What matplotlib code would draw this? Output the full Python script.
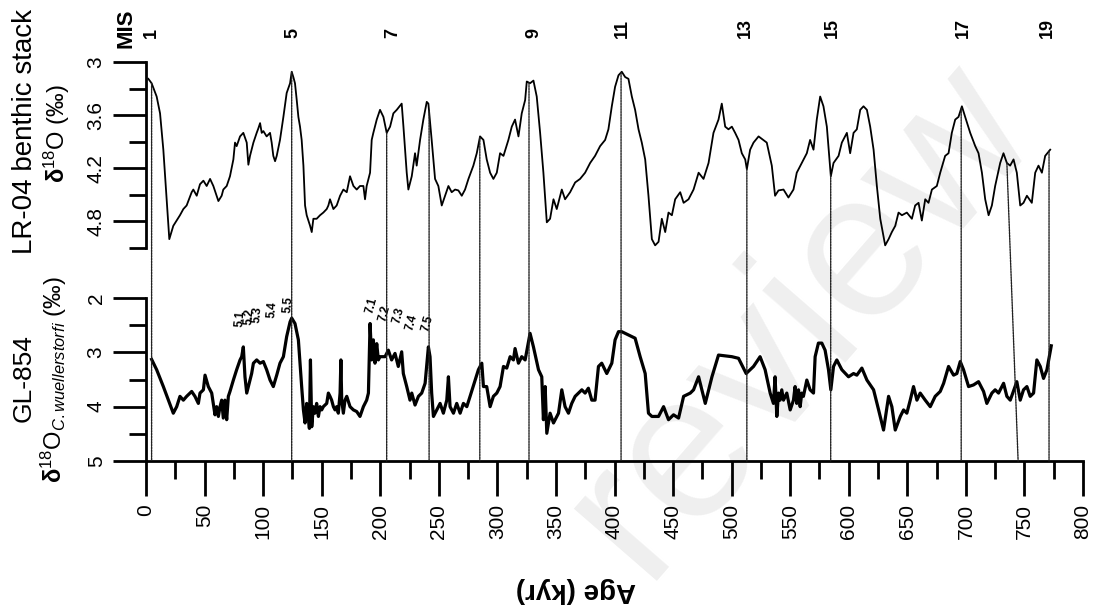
import numpy as np
import matplotlib
matplotlib.use("Agg")
import matplotlib.pyplot as plt
from matplotlib.patches import ConnectionPatch
from matplotlib.ticker import FixedLocator, MultipleLocator

plt.rcParams['font.family'] = ['Liberation Sans', 'DejaVu Sans']
plt.rcParams['mathtext.fontset'] = 'custom'
plt.rcParams['mathtext.rm'] = 'Liberation Sans'
plt.rcParams['mathtext.it'] = 'Liberation Sans:italic'
plt.rcParams['mathtext.bf'] = 'Liberation Sans:bold'
plt.rcParams.update({
    'xtick.direction': 'out', 'ytick.direction': 'out',
    'xtick.major.size': 25, 'xtick.minor.size': 13,
    'xtick.major.width': 2.0, 'xtick.minor.width': 2.0,
    'xtick.major.pad': 6, 'xtick.labelsize': 15,
    'ytick.major.size': 24, 'ytick.minor.size': 12,
    'ytick.major.width': 2.0, 'ytick.minor.width': 2.0,
})

# LR-04 benthic stack (kyr, per mil)
lr04_age = [
    2.0, 4.8, 9.1, 12.0, 14.8, 17.6, 19.9, 23.3, 29.0, 31.9,
    34.7, 39.0, 40.4, 43.3, 46.1, 49.0, 51.8, 54.7, 57.5, 60.3,
    61.8, 64.6, 66.0, 68.9, 71.7, 74.6, 76.0, 77.4, 80.3, 83.1,
    86.0, 87.4, 88.8, 91.7, 94.5, 95.9, 97.4, 98.8, 100.2, 103.0,
    105.9, 107.3, 108.7, 110.2, 111.6, 114.4, 117.3, 120.1, 123.0, 124.4,
    125.8, 127.2, 128.7, 130.1, 131.5, 132.9, 134.4, 135.8, 137.2, 140.1,
    141.5, 142.9, 145.7, 148.6, 151.4, 154.3, 155.7, 157.1, 160.0, 162.8,
    165.7, 168.5, 171.4, 174.2, 177.1, 179.9, 182.7, 185.6, 187.0, 188.4,
    191.3, 192.7, 194.1, 197.0, 199.8, 202.7, 205.5, 208.4, 211.2, 214.1,
    218.3, 219.8, 222.6, 224.0, 226.9, 229.7, 231.1, 234.0, 236.8, 239.7,
    241.1, 243.9, 246.8, 249.6, 252.5, 255.3, 258.2, 261.0, 263.9, 266.7,
    269.6, 272.4, 275.3, 279.5, 282.4, 285.2, 288.1, 290.9, 293.8, 296.6,
    299.5, 302.3, 305.2, 309.4, 312.3, 315.1, 318.0, 320.8, 323.7, 325.1,
    327.9, 330.8, 333.6, 336.5, 339.3, 342.2, 345.0, 347.9, 350.7, 355.0,
    357.8, 362.1, 366.4, 370.6, 374.9, 379.2, 383.4, 387.7, 392.0, 394.8,
    397.7, 400.5, 403.4, 406.2, 409.1, 411.9, 414.8, 417.6, 420.5, 423.3,
    426.2, 429.0, 431.9, 434.7, 437.6, 440.4, 443.3, 446.1, 449.0, 451.8,
    456.1, 459.0, 463.2, 467.5, 471.8, 476.0, 480.3, 484.5, 488.8, 491.6,
    494.5, 497.3, 500.2, 503.0, 505.9, 508.7, 511.6, 513.0, 515.8, 518.7,
    523.0, 530.0, 534.3, 537.1, 540.0, 544.3, 548.5, 552.8, 555.6, 559.9,
    564.2, 567.0, 569.9, 572.7, 575.6, 578.4, 581.3, 584.7, 587.0, 591.3,
    594.1, 598.4, 601.2, 604.1, 606.9, 609.8, 612.6, 615.5, 618.3, 621.2,
    624.0, 626.9, 631.1, 634.0, 636.8, 639.7, 642.5, 645.4, 649.6, 653.9,
    656.7, 659.6, 662.4, 665.3, 668.1, 671.0, 675.2, 678.1, 682.3, 685.2,
    688.0, 690.9, 693.7, 696.6, 699.4, 703.7, 708.0, 710.8, 713.7, 716.5,
    719.4, 722.2, 725.0, 729.3, 732.1, 735.0, 737.8, 740.7, 743.5, 746.4,
    749.2, 752.1, 756.3, 759.2, 762.0, 764.9, 767.7, 772.0,
]
lr04_d18o = [
    3.19, 3.24, 3.39, 3.58, 3.99, 4.55, 5.00, 4.85, 4.73, 4.66,
    4.62, 4.47, 4.44, 4.51, 4.38, 4.34, 4.40, 4.32, 4.40, 4.51,
    4.57, 4.51, 4.44, 4.40, 4.29, 4.10, 3.91, 3.95, 3.84, 3.80,
    3.91, 4.16, 4.06, 3.91, 3.80, 3.75, 3.69, 3.80, 3.78, 3.84,
    3.80, 3.91, 4.06, 4.12, 4.06, 3.88, 3.62, 3.35, 3.24, 3.11,
    3.17, 3.24, 3.43, 3.62, 3.73, 3.88, 4.17, 4.62, 4.73, 4.85,
    4.92, 4.77, 4.77, 4.73, 4.70, 4.66, 4.62, 4.55, 4.66, 4.62,
    4.51, 4.44, 4.47, 4.29, 4.40, 4.44, 4.40, 4.40, 4.55, 4.40,
    4.25, 3.88, 3.80, 3.65, 3.54, 3.62, 3.80, 3.73, 3.58, 3.54,
    3.47, 3.73, 4.25, 4.44, 4.29, 4.03, 4.17, 3.88, 3.65, 3.45,
    3.47, 3.88, 4.32, 4.40, 4.62, 4.51, 4.40, 4.47, 4.44, 4.45,
    4.51, 4.44, 4.32, 4.17, 4.03, 3.84, 3.88, 4.10, 4.25, 4.32,
    4.25, 4.03, 4.06, 3.88, 3.73, 3.65, 3.84, 3.58, 3.43, 3.22,
    3.24, 3.21, 3.39, 3.80, 4.25, 4.81, 4.77, 4.55, 4.66, 4.44,
    4.55, 4.47, 4.36, 4.32, 4.25, 4.14, 4.06, 3.95, 3.88, 3.76,
    3.50, 3.28, 3.15, 3.11, 3.17, 3.19, 3.39, 3.54, 3.76, 3.91,
    4.10, 4.51, 5.00, 5.07, 5.03, 4.77, 4.92, 4.70, 4.73, 4.55,
    4.47, 4.59, 4.55, 4.44, 4.25, 4.32, 4.14, 3.80, 3.65, 3.47,
    3.73, 3.76, 3.73, 3.80, 3.88, 4.03, 4.10, 4.21, 3.99, 3.91,
    3.84, 3.91, 4.17, 4.51, 4.45, 4.44, 4.53, 4.44, 4.25, 4.14,
    4.03, 3.88, 3.99, 3.65, 3.39, 3.50, 3.73, 4.29, 4.14, 4.06,
    3.91, 3.80, 4.03, 3.80, 3.76, 3.54, 3.50, 3.54, 3.73, 3.99,
    4.40, 4.77, 5.07, 5.00, 4.92, 4.85, 4.70, 4.73, 4.70, 4.77,
    4.62, 4.59, 4.79, 4.55, 4.59, 4.44, 4.40, 4.25, 4.06, 4.03,
    3.80, 3.65, 3.62, 3.50, 3.62, 3.80, 3.95, 4.03, 4.25, 4.55,
    4.73, 4.62, 4.40, 4.14, 4.03, 4.14, 4.17, 4.10, 4.25, 4.62,
    4.59, 4.51, 4.59, 4.25, 4.17, 4.25, 4.06, 3.99,
]

# GL-854 C. wuellerstorfi record (kyr, per mil)
gl854_age = [
    4.8, 9.1, 14.8, 19.1, 23.3, 26.2, 29.0, 31.9, 34.7, 39.0,
    41.8, 44.7, 46.1, 49.0, 50.4, 53.2, 56.1, 58.9, 60.3, 61.8,
    63.2, 64.6, 66.0, 67.4, 68.9, 70.3, 71.7, 74.6, 77.4, 80.3,
    81.7, 83.1, 84.5, 86.0, 87.4, 90.2, 91.7, 94.5, 97.4, 100.2,
    103.0, 105.9, 108.7, 111.6, 114.4, 117.3, 120.1, 123.0, 124.4, 127.2,
    130.1, 131.5, 132.9, 134.4, 135.8, 137.2, 138.6, 139.5, 140.4, 141.5,
    142.9, 144.3, 145.7, 147.2, 148.6, 150.0, 151.4, 154.3, 155.7, 157.1,
    158.5, 160.0, 161.4, 162.8, 164.2, 165.7, 166.4, 167.1, 168.5, 169.9,
    171.4, 174.2, 177.1, 179.9, 182.7, 185.6, 188.4, 189.9, 191.3, 192.7,
    194.1, 195.5, 197.0, 198.4, 199.8, 204.1, 206.9, 209.7, 212.6, 215.4,
    218.3, 219.7, 222.6, 225.4, 226.9, 229.7, 232.6, 235.4, 238.3, 241.1,
    242.5, 243.9, 245.4, 248.2, 251.1, 253.9, 256.8, 258.2, 259.6, 262.5,
    265.3, 268.2, 271.0, 273.9, 276.7, 281.0, 283.8, 286.7, 288.1, 290.9,
    293.8, 296.6, 299.5, 302.3, 305.2, 308.0, 310.9, 313.7, 315.1, 318.0,
    320.8, 323.7, 327.9, 330.8, 335.1, 337.9, 339.3, 340.8, 342.2, 345.0,
    347.9, 352.2, 355.0, 357.8, 360.7, 363.5, 366.4, 369.2, 372.1, 374.9,
    377.7, 380.6, 383.4, 386.3, 389.1, 393.4, 397.7, 400.5, 403.4, 406.2,
    417.6, 421.9, 426.2, 429.0, 431.9, 437.6, 441.9, 446.1, 450.4, 454.7,
    459.0, 464.7, 467.5, 471.8, 477.5, 483.2, 488.8, 500.2, 505.9, 512.4,
    518.7, 524.3, 528.6, 532.9, 535.7, 537.1, 538.6, 540.0, 541.4, 542.8,
    544.3, 547.1, 550.0, 552.8, 554.2, 555.6, 557.1, 558.5, 559.9, 561.3,
    564.2, 567.0, 569.9, 571.3, 574.1, 577.0, 579.8, 582.7, 584.7, 587.0,
    589.8, 594.1, 599.8, 604.1, 606.9, 611.2, 615.5, 621.2, 625.5, 629.7,
    634.0, 636.8, 639.7, 644.0, 646.8, 649.6, 652.5, 655.3, 658.2, 661.0,
    665.3, 669.6, 673.8, 678.1, 681.0, 685.2, 689.5, 692.3, 695.2, 698.0,
    702.3, 706.5, 710.8, 715.1, 717.9, 722.2, 725.0, 727.9, 732.2, 735.0,
    737.9, 743.5, 746.4, 749.2, 752.1, 754.9, 757.8, 760.6, 763.5, 766.3,
    769.2, 772.9,
]
gl854_d18o = [
    3.13, 3.32, 3.63, 3.88, 4.12, 4.00, 3.81, 3.88, 3.81, 3.72,
    3.81, 3.94, 3.75, 3.69, 3.42, 3.63, 3.75, 4.15, 4.00, 4.18,
    4.00, 3.88, 4.21, 3.88, 4.24, 3.81, 3.72, 3.51, 3.32, 3.14,
    3.08, 2.90, 3.45, 3.75, 3.63, 3.39, 3.20, 3.14, 3.20, 3.17,
    3.32, 3.51, 3.63, 3.42, 3.20, 3.08, 2.71, 2.44, 2.37, 2.47,
    2.77, 3.20, 3.63, 4.06, 4.30, 3.94, 4.18, 4.40, 3.14, 4.37,
    4.00, 4.12, 3.94, 4.18, 4.00, 4.06, 4.00, 3.94, 3.75, 3.81,
    3.88, 4.00, 4.06, 4.00, 4.12, 3.75, 3.14, 3.88, 4.12, 3.88,
    3.81, 4.00, 4.06, 4.09, 4.18, 4.00, 3.88, 3.75, 2.47, 3.14,
    2.77, 3.20, 2.84, 3.14, 3.08, 3.08, 2.96, 3.14, 3.02, 3.26,
    2.99, 3.39, 3.63, 3.88, 3.75, 3.97, 3.81, 3.75, 3.57, 2.90,
    3.08, 3.75, 4.18, 4.06, 3.94, 4.12, 3.88, 3.45, 4.00, 4.12,
    3.94, 4.12, 3.94, 4.00, 3.81, 3.51, 3.32, 3.20, 3.63, 3.63,
    4.00, 3.81, 3.75, 3.63, 3.26, 3.29, 3.08, 3.14, 2.93, 3.20,
    3.08, 3.14, 2.65, 2.90, 3.32, 3.45, 4.24, 3.63, 4.49, 4.12,
    4.30, 4.12, 3.69, 4.00, 4.12, 3.94, 3.81, 3.75, 3.69, 3.75,
    3.66, 3.88, 3.88, 3.26, 3.20, 3.39, 3.20, 2.77, 2.62, 2.62,
    2.74, 3.08, 3.39, 4.12, 4.18, 4.18, 4.00, 4.24, 4.15, 4.21,
    3.81, 3.75, 3.69, 3.45, 3.94, 3.45, 3.05, 3.08, 3.11, 3.39,
    3.26, 3.08, 3.32, 3.75, 3.94, 3.45, 4.18, 3.75, 3.88, 3.69,
    3.88, 3.75, 4.06, 3.88, 3.63, 3.94, 3.69, 4.00, 3.75, 3.81,
    3.51, 3.69, 3.75, 3.08, 2.83, 2.83, 2.96, 3.32, 3.69, 3.26,
    3.14, 3.32, 3.45, 3.39, 3.42, 3.29, 3.51, 3.69, 4.06, 4.43,
    3.81, 4.00, 4.43, 4.18, 4.06, 4.12, 3.88, 3.63, 3.88, 3.75,
    3.88, 4.00, 3.81, 3.72, 3.57, 3.26, 3.42, 3.39, 3.17, 3.32,
    3.63, 3.60, 3.54, 3.72, 3.94, 3.75, 3.69, 3.75, 3.57, 3.81,
    3.88, 3.54, 3.88, 3.69, 3.63, 3.81, 3.75, 3.14, 3.26, 3.48,
    3.32, 2.88,
]

# Tie points between the stack (top age) and GL-854 (bottom age)
tie_age_top = [4.8, 124.4, 205.5, 241.7, 285.0, 327.0, 405.6, 513.0, 584.6, 696.0, 735.0, 771.0]
tie_age_bot = [4.8, 124.4, 205.5, 241.7, 285.0, 327.0, 405.6, 513.0, 584.6, 696.0, 744.6, 771.0]

# Marine isotope stage numbers
mis_labels = ['1', '5', '7', '9', '11', '13', '15', '17', '19']
mis_age = [5, 125.5, 211, 331, 407, 512, 586, 698, 770]

# Sub-stage labels on GL-854
sub5_labels = ['5.1', '5.2', '5.3', '5.4', '5.5']
sub5_age = [80.3, 88.0, 94.8, 107.6, 121.3]
sub5_val = [2.53, 2.50, 2.46, 2.37, 2.28]
sub7_labels = ['7.1', '7.2', '7.3', '7.4', '7.5']
sub7_age = [193, 204, 216, 227, 240.4]
sub7_val = [2.31, 2.46, 2.50, 2.63, 2.64]

stack_ticks = [3.0, 3.6, 4.2, 4.8]
stack_ticklabels = ['3', '3.6', '4.2', '4.8']
gl_ticks = [2, 3, 4, 5]
gl_ticklabels = ['2', '3', '4', '5']

W, H = 1099, 612
fig = plt.figure(figsize=(W / 100, H / 100), dpi=100)

def fx(px):
    return px / W

def fy(py):
    return 1 - py / H

# faint watermark behind everything
fig.text(fx(800), fy(318), 'review', rotation=49, ha='center', va='center',
         fontsize=150, color='#efefef', zorder=-5)

left, right = 146, 1083
ax1 = fig.add_axes([fx(left), fy(248), fx(right - left), fy(62) - fy(248)])
ax2 = fig.add_axes([fx(left), fy(461), fx(right - left), fy(298) - fy(461)])

# top panel
ax1.plot(lr04_age, lr04_d18o, color='black', lw=1.3, zorder=3)
ax1.set_ylim(5.1, 3.0)
ax1.yaxis.set_major_locator(FixedLocator(stack_ticks))
ax1.yaxis.set_minor_locator(FixedLocator([3.3, 3.9, 4.5, 5.1]))
ax1.spines['bottom'].set_visible(False)
ax1.tick_params(axis='x', which='both', bottom=False, labelbottom=False)

# bottom panel
ax2.plot(gl854_age, gl854_d18o, color='black', lw=2.3, zorder=3)
ax2.set_ylim(5.0, 2.0)
ax2.yaxis.set_major_locator(FixedLocator(gl_ticks))
ax2.yaxis.set_minor_locator(FixedLocator([2.5, 3.5, 4.5]))
ax2.spines['bottom'].set_linewidth(2.0)
ax2.xaxis.set_major_locator(MultipleLocator(50))
ax2.xaxis.set_minor_locator(MultipleLocator(25))
ax2.tick_params(axis='x', which='major', labelrotation=90)

# y tick labels, upright along the axis, set off beyond the long ticks
for ax, ticks, labels in ((ax1, stack_ticks, stack_ticklabels),
                          (ax2, gl_ticks, gl_ticklabels)):
    ax.patch.set_alpha(0)
    ax.set_xlim(0, 800)
    for s in ('top', 'right'):
        ax.spines[s].set_visible(False)
    ax.spines['left'].set_linewidth(2.0)
    ax.tick_params(axis='y', which='both', labelleft=False)
    for v, s in zip(ticks, labels):
        ax.annotate(s, xy=(0, v), xycoords=ax.get_yaxis_transform(),
                    xytext=(-29, 0), textcoords='offset points',
                    rotation=90, rotation_mode='default', ha='right', va='center',
                    fontsize=15, annotation_clip=False)

# tie lines from the stack down to the GL-854 axis
for a_top, a_bot in zip(tie_age_top, tie_age_bot):
    v_top = float(np.interp(a_top, lr04_age, lr04_d18o))
    con = ConnectionPatch(xyA=(a_top, v_top), coordsA=ax1.transData,
                          xyB=(a_bot, 5.0), coordsB=ax2.transData,
                          linestyle=(0, (1.2, 0.8)), lw=1.0, color='#222222', zorder=2)
    fig.add_artist(con)

# MIS numbers
fig.text(fx(126), fy(28), 'MIS', rotation=90, ha='center', va='center',
         fontsize=16, fontweight='bold')
for lab, a in zip(mis_labels, mis_age):
    xpx = left + a / 800 * (right - left)
    fig.text(fx(xpx), fy(38), lab, rotation=90, ha='center', va='bottom',
             fontsize=13, fontweight='bold')

for lab, a, v in zip(sub5_labels, sub5_age, sub5_val):
    ax2.text(a, v, lab, rotation=85, ha='center', va='bottom', fontsize=8.5,
             fontweight='bold', zorder=4)
for lab, a, v in zip(sub7_labels, sub7_age, sub7_val):
    ax2.text(a, v, lab, rotation=75, ha='center', va='bottom', fontsize=8.5,
             fontweight='bold', zorder=4)

# axis titles
fig.text(fx(25), fy(131), 'LR-04 benthic stack', rotation=90, ha='center', va='center',
         fontsize=20)
fig.text(fx(57), fy(134), r'$\mathbf{\delta}^{18}$O (‰)', rotation=90,
         ha='center', va='center', fontsize=17)
fig.text(fx(24), fy(378), 'GL-854', rotation=90, ha='center', va='center', fontsize=19)
fig.text(fx(54), fy(380), r'$\mathbf{\delta}^{18}$O$_{\mathit{C.wuellerstorfi}}$ (‰)',
         rotation=90, ha='center', va='center', fontsize=17)
fig.text(fx(576), fy(590), 'Age (kyr)', rotation=180, ha='center', va='center',
         fontsize=20, fontweight='bold')

fig.savefig('out.png', dpi=100)
